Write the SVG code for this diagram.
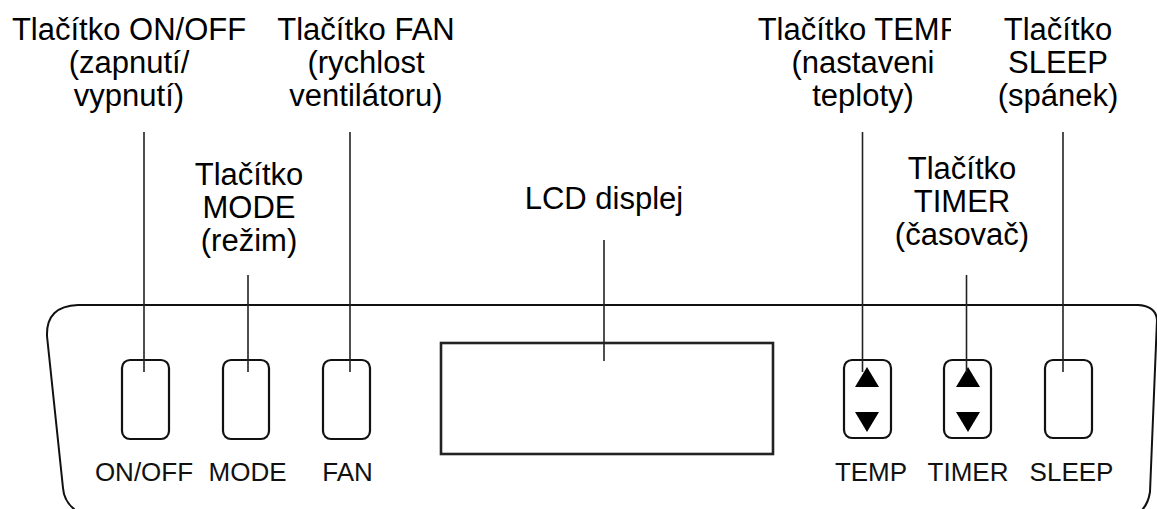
<svg xmlns="http://www.w3.org/2000/svg" width="1157" height="509" viewBox="0 0 1157 509">
<style>
.lbl{font-family:"Liberation Sans",Arial,sans-serif;font-size:31px;fill:#000;text-anchor:middle}
.bl{font-family:"Liberation Sans",Arial,sans-serif;font-size:26px;fill:#111;text-anchor:middle}
.btn{fill:#fff;stroke:#111;stroke-width:2.2}
.ln{stroke:#222;stroke-width:1.6;fill:none}
.tri{fill:#000}
</style>
<defs>
<clipPath id="clipTemp"><rect x="700" y="0" width="251" height="60"/></clipPath>
</defs>
<rect width="1157" height="509" fill="#fff"/>
<g id="panel">
<path d="M78 512 Q64 503 63 488 L47 336 Q46 306 78 305 L1138 305 Q1156 306 1157 320 L1150 492 Q1148 505 1140 512" fill="none" stroke="#111" stroke-width="2"/>
</g>
<g id="lcd">
<rect x="441" y="343" width="332" height="111" fill="#fff" stroke="#222" stroke-width="2.6"/>
<text class="lbl" x="604" y="209">LCD displej</text>
</g>
<g id="onoff">
<rect class="btn" x="122" y="360" width="47" height="79" rx="8"/>
<text class="bl" x="144" y="481">ON/OFF</text>
<text class="lbl" x="129" y="40">Tlačítko ON/OFF</text>
<text class="lbl" x="129" y="73">(zapnutí/</text>
<text class="lbl" x="129" y="106">vypnutí)</text>
</g>
<g id="mode">
<rect class="btn" x="223" y="360" width="46" height="79" rx="8"/>
<text class="bl" x="247.5" y="481">MODE</text>
<text class="lbl" x="249" y="185">Tlačítko</text>
<text class="lbl" x="249" y="218">MODE</text>
<text class="lbl" x="249" y="251">(režim)</text>
</g>
<g id="fan">
<rect class="btn" x="323" y="360" width="47" height="79" rx="8"/>
<text class="bl" x="347.5" y="481">FAN</text>
<text class="lbl" x="366" y="40">Tlačítko FAN</text>
<text class="lbl" x="366" y="73">(rychlost</text>
<text class="lbl" x="366" y="106">ventilátoru)</text>
</g>
<g id="temp">
<rect class="btn" x="844" y="360" width="47" height="78" rx="8"/>
<polygon class="tri" points="867,367 879,387 855,387"/>
<polygon class="tri" points="855,412 879,412 867,432"/>
<text class="bl" x="871" y="481">TEMP</text>
<text class="lbl" x="859" y="40" clip-path="url(#clipTemp)">Tlačítko TEMP</text>
<text class="lbl" x="863" y="73">(nastaveni</text>
<text class="lbl" x="863" y="106">teploty)</text>
</g>
<g id="timer">
<rect class="btn" x="944" y="360" width="47" height="78" rx="8"/>
<polygon class="tri" points="968,367 980,387 956,387"/>
<polygon class="tri" points="956,412 980,412 968,432"/>
<text class="bl" x="968" y="481">TIMER</text>
<text class="lbl" x="962" y="179">Tlačítko</text>
<text class="lbl" x="962" y="212">TIMER</text>
<text class="lbl" x="962" y="245">(časovač)</text>
</g>
<g id="sleep">
<rect class="btn" x="1045" y="360" width="47" height="78" rx="8"/>
<text class="bl" x="1071.5" y="481">SLEEP</text>
<text class="lbl" x="1058" y="40">Tlačítko</text>
<text class="lbl" x="1058" y="73">SLEEP</text>
<text class="lbl" x="1058" y="106">(spánek)</text>
</g>
<g id="connectors">
<line class="ln" x1="144" y1="132" x2="144" y2="372"/>
<line class="ln" x1="248" y1="275" x2="248" y2="372"/>
<line class="ln" x1="350" y1="132" x2="350" y2="372"/>
<line class="ln" x1="604" y1="240" x2="604" y2="361"/>
<line class="ln" x1="862.5" y1="132" x2="862.5" y2="372"/>
<line class="ln" x1="966.5" y1="275" x2="966.5" y2="372"/>
<line class="ln" x1="1063" y1="132" x2="1063" y2="372"/>
</g>
</svg>
